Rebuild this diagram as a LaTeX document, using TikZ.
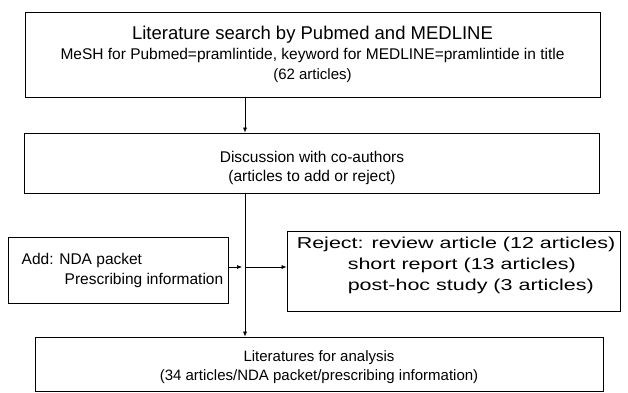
\documentclass[tikz,border=0pt]{standalone}
\usepackage{fontspec}
\setmainfont{Liberation Sans}
\newfontfamily\widefont[FakeStretch=1.36]{Liberation Sans}
\usetikzlibrary{arrows.meta, positioning}

\begin{document}
\begin{tikzpicture}[
    x=1pt, y=-1pt,
    % Define box styles
    stage/.style={
        rectangle,
        draw=black,
        line width=0.8pt,
        inner sep=0pt,
        align=center,
        font=\fontsize{15.5}{19.5}\selectfont
    },
    side/.style={
        rectangle,
        draw=black,
        line width=0.8pt,
        inner sep=0pt,
        align=left,
        font=\fontsize{15.5}{20}\selectfont
    },
    flow/.style={
        line width=0.6pt,
        -{Latex[length=5pt, width=4pt]}
    }
]
    \useasboundingbox (0,0) rectangle (628,392);

    % =================================================================
    % --- Main stages ---
    % =================================================================
    \node[stage, minimum width=575pt, minimum height=85pt, font=\fontsize{15.5}{20}\selectfont] (search) at (312.5, 54.5)
        {{\fontsize{18.5}{20}\selectfont Literature search by Pubmed and MEDLINE}\\
         MeSH for Pubmed=pramlintide, keyword for MEDLINE=pramlintide in title\\
         {\fontsize{15}{20}\selectfont (62 articles)}};
    \node[stage, minimum width=575pt, minimum height=60pt] (discuss) at (312, 163)
        {\raisebox{-5pt}[\height][\depth]{\begin{tabular}{@{}c@{}}Discussion with co-authors\\(articles to add or reject)\end{tabular}}};
    \node[stage, minimum width=568pt, minimum height=54pt, font=\fontsize{15}{19}\selectfont] (result) at (319, 364)
        {\raisebox{-3pt}[\height][\depth]{\begin{tabular}{@{}c@{}}Literatures for analysis\\(34 articles/NDA packet/prescribing information)\end{tabular}}};

    % --- Side boxes ---
    \node[side, minimum width=220pt, minimum height=66pt] (add) at (118, 270)
        {\hspace*{9pt}Add: NDA packet\\\hspace*{52pt}Prescribing information};
    \node[side, minimum width=333pt, minimum height=80pt,
          font=\widefont\fontsize{15.8}{21}\selectfont] (reject) at (453.5, 271)
        {\raisebox{6pt}[\height][\depth]{\begin{tabular}{@{}l@{}}
         \hspace*{5pt}Reject: review article (12 articles)\\
         \hspace*{56pt}short report (13 articles)\\
         \hspace*{56pt}post-hoc study (3 articles)
         \end{tabular}}};

    % --- Connectors ---
    \coordinate (spine) at (245, 267);
    \draw[flow] (search.south -| spine) -- (discuss.north -| spine);
    \draw[line width=0.6pt] (discuss.south -| spine) -- (spine);
    \draw[flow] (spine) -- (result.north -| spine);
    \draw[flow] (add.east |- spine) -- ([xshift=-3pt]spine);
    \draw[flow] (spine) -- (reject.west |- spine);
\end{tikzpicture}
\end{document}
